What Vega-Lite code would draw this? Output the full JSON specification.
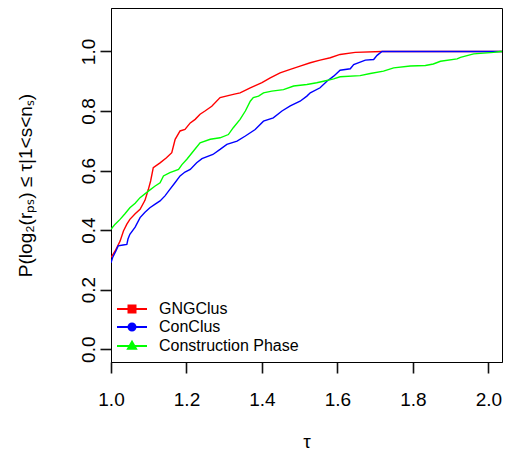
{
  "$schema": "https://vega.github.io/schema/vega-lite/v6.json",
  "width": 391,
  "height": 354,
  "autosize": {"type": "none"},
  "padding": {"left": 111, "top": 8, "right": 9, "bottom": 95},
  "config": {
    "view": {"stroke": "black", "strokeWidth": 1},
    "font": "Liberation Sans",
    "axis": {"grid": false, "domain": true, "domainColor": "black", "domainWidth": 1, "ticks": true, "tickColor": "#111111", "tickWidth": 1.6, "tickSize": 11, "labelFlush": false, "labelColor": "black", "labelFontSize": 19, "labelFont": "Liberation Sans", "titleFont": "Liberation Sans", "titleFontSize": 19, "titleFontWeight": "normal", "titleColor": "black"}
  },
  "data": {"values": [
    {"s":"GNGClus","t":1.000,"p":0.308},{"s":"GNGClus","t":1.011,"p":0.33},{"s":"GNGClus","t":1.024,"p":0.363},{"s":"GNGClus","t":1.033,"p":0.397},{"s":"GNGClus","t":1.042,"p":0.42},{"s":"GNGClus","t":1.050,"p":0.436},{"s":"GNGClus","t":1.064,"p":0.455},{"s":"GNGClus","t":1.077,"p":0.47},{"s":"GNGClus","t":1.090,"p":0.50},{"s":"GNGClus","t":1.099,"p":0.537},{"s":"GNGClus","t":1.105,"p":0.565},{"s":"GNGClus","t":1.112,"p":0.61},{"s":"GNGClus","t":1.130,"p":0.626},{"s":"GNGClus","t":1.147,"p":0.643},{"s":"GNGClus","t":1.161,"p":0.66},{"s":"GNGClus","t":1.167,"p":0.69},{"s":"GNGClus","t":1.170,"p":0.705},{"s":"GNGClus","t":1.183,"p":0.733},{"s":"GNGClus","t":1.196,"p":0.738},{"s":"GNGClus","t":1.210,"p":0.76},{"s":"GNGClus","t":1.223,"p":0.772},{"s":"GNGClus","t":1.236,"p":0.789},{"s":"GNGClus","t":1.249,"p":0.80},{"s":"GNGClus","t":1.267,"p":0.816},{"s":"GNGClus","t":1.289,"p":0.845},{"s":"GNGClus","t":1.324,"p":0.856},{"s":"GNGClus","t":1.342,"p":0.861},{"s":"GNGClus","t":1.369,"p":0.878},{"s":"GNGClus","t":1.400,"p":0.895},{"s":"GNGClus","t":1.422,"p":0.911},{"s":"GNGClus","t":1.448,"p":0.928},{"s":"GNGClus","t":1.475,"p":0.94},{"s":"GNGClus","t":1.501,"p":0.951},{"s":"GNGClus","t":1.528,"p":0.962},{"s":"GNGClus","t":1.554,"p":0.971},{"s":"GNGClus","t":1.581,"p":0.979},{"s":"GNGClus","t":1.607,"p":0.99},{"s":"GNGClus","t":1.647,"p":0.997},{"s":"GNGClus","t":1.718,"p":1.0},{"s":"GNGClus","t":2.036,"p":1.0},
    {"s":"ConClus","t":1.000,"p":0.29},{"s":"ConClus","t":1.005,"p":0.31},{"s":"ConClus","t":1.013,"p":0.33},{"s":"ConClus","t":1.019,"p":0.347},{"s":"ConClus","t":1.032,"p":0.35},{"s":"ConClus","t":1.042,"p":0.352},{"s":"ConClus","t":1.045,"p":0.37},{"s":"ConClus","t":1.050,"p":0.386},{"s":"ConClus","t":1.064,"p":0.41},{"s":"ConClus","t":1.077,"p":0.442},{"s":"ConClus","t":1.090,"p":0.46},{"s":"ConClus","t":1.103,"p":0.475},{"s":"ConClus","t":1.117,"p":0.487},{"s":"ConClus","t":1.130,"p":0.498},{"s":"ConClus","t":1.143,"p":0.515},{"s":"ConClus","t":1.156,"p":0.537},{"s":"ConClus","t":1.170,"p":0.56},{"s":"ConClus","t":1.183,"p":0.582},{"s":"ConClus","t":1.196,"p":0.595},{"s":"ConClus","t":1.210,"p":0.604},{"s":"ConClus","t":1.227,"p":0.626},{"s":"ConClus","t":1.241,"p":0.64},{"s":"ConClus","t":1.270,"p":0.654},{"s":"ConClus","t":1.289,"p":0.671},{"s":"ConClus","t":1.307,"p":0.688},{"s":"ConClus","t":1.334,"p":0.699},{"s":"ConClus","t":1.356,"p":0.716},{"s":"ConClus","t":1.382,"p":0.738},{"s":"ConClus","t":1.404,"p":0.766},{"s":"ConClus","t":1.430,"p":0.777},{"s":"ConClus","t":1.453,"p":0.80},{"s":"ConClus","t":1.475,"p":0.817},{"s":"ConClus","t":1.501,"p":0.833},{"s":"ConClus","t":1.519,"p":0.85},{"s":"ConClus","t":1.528,"p":0.861},{"s":"ConClus","t":1.554,"p":0.878},{"s":"ConClus","t":1.572,"p":0.90},{"s":"ConClus","t":1.590,"p":0.917},{"s":"ConClus","t":1.607,"p":0.937},{"s":"ConClus","t":1.634,"p":0.942},{"s":"ConClus","t":1.643,"p":0.956},{"s":"ConClus","t":1.674,"p":0.971},{"s":"ConClus","t":1.696,"p":0.973},{"s":"ConClus","t":1.705,"p":0.987},{"s":"ConClus","t":1.718,"p":1.0},{"s":"ConClus","t":2.036,"p":1.0},
    {"s":"Construction Phase","t":1.000,"p":0.403},{"s":"Construction Phase","t":1.011,"p":0.42},{"s":"Construction Phase","t":1.024,"p":0.436},{"s":"Construction Phase","t":1.037,"p":0.455},{"s":"Construction Phase","t":1.050,"p":0.475},{"s":"Construction Phase","t":1.064,"p":0.49},{"s":"Construction Phase","t":1.077,"p":0.509},{"s":"Construction Phase","t":1.099,"p":0.531},{"s":"Construction Phase","t":1.117,"p":0.548},{"s":"Construction Phase","t":1.130,"p":0.559},{"s":"Construction Phase","t":1.139,"p":0.582},{"s":"Construction Phase","t":1.156,"p":0.593},{"s":"Construction Phase","t":1.179,"p":0.604},{"s":"Construction Phase","t":1.188,"p":0.62},{"s":"Construction Phase","t":1.201,"p":0.638},{"s":"Construction Phase","t":1.218,"p":0.665},{"s":"Construction Phase","t":1.236,"p":0.693},{"s":"Construction Phase","t":1.263,"p":0.705},{"s":"Construction Phase","t":1.289,"p":0.71},{"s":"Construction Phase","t":1.311,"p":0.721},{"s":"Construction Phase","t":1.324,"p":0.744},{"s":"Construction Phase","t":1.342,"p":0.772},{"s":"Construction Phase","t":1.356,"p":0.80},{"s":"Construction Phase","t":1.369,"p":0.833},{"s":"Construction Phase","t":1.377,"p":0.845},{"s":"Construction Phase","t":1.391,"p":0.85},{"s":"Construction Phase","t":1.404,"p":0.861},{"s":"Construction Phase","t":1.426,"p":0.867},{"s":"Construction Phase","t":1.457,"p":0.872},{"s":"Construction Phase","t":1.484,"p":0.884},{"s":"Construction Phase","t":1.519,"p":0.889},{"s":"Construction Phase","t":1.545,"p":0.895},{"s":"Construction Phase","t":1.563,"p":0.90},{"s":"Construction Phase","t":1.590,"p":0.908},{"s":"Construction Phase","t":1.607,"p":0.915},{"s":"Construction Phase","t":1.660,"p":0.919},{"s":"Construction Phase","t":1.687,"p":0.926},{"s":"Construction Phase","t":1.722,"p":0.934},{"s":"Construction Phase","t":1.749,"p":0.945},{"s":"Construction Phase","t":1.793,"p":0.951},{"s":"Construction Phase","t":1.833,"p":0.953},{"s":"Construction Phase","t":1.854,"p":0.958},{"s":"Construction Phase","t":1.873,"p":0.967},{"s":"Construction Phase","t":1.917,"p":0.975},{"s":"Construction Phase","t":1.926,"p":0.98},{"s":"Construction Phase","t":1.961,"p":0.992},{"s":"Construction Phase","t":2.014,"p":0.997},{"s":"Construction Phase","t":2.032,"p":1.0},{"s":"Construction Phase","t":2.036,"p":1.0}
  ]},
  "mark": {"type": "line", "interpolate": "linear", "strokeWidth": 1.4, "clip": true},
  "encoding": {
    "x": {"field": "t", "type": "quantitative",
      "scale": {"domain": [1, 2.036], "nice": false, "zero": false},
      "axis": {"values": [1, 1.2, 1.4, 1.6, 1.8, 2.0], "format": ".1f", "labelPadding": 17, "title": "τ", "titleY": 79, "titleBaseline": "middle"}},
    "y": {"field": "p", "type": "quantitative",
      "scale": {"domain": [-0.043, 1.146], "nice": false, "zero": false},
      "axis": {"values": [0, 0.2, 0.4, 0.6, 0.8, 1.0], "format": ".1f", "labelAngle": -90, "labelAlign": "center", "labelBaseline": "bottom", "labelPadding": 2,
        "title": "P(log₂(rₚₛ) ≤ τ|1<s<nₛ)", "titleX": -86, "titleY": 177, "titleAngle": -90, "titleAlign": "center", "titleBaseline": "middle"}},
    "color": {"field": "s", "type": "nominal",
      "scale": {"domain": ["GNGClus", "ConClus", "Construction Phase"], "range": ["#ff0000", "#0000ff", "#00ff00"]},
      "legend": {"title": null, "orient": "none", "legendX": 13, "legendY": 293, "padding": 0,
        "symbolSize": 100, "symbolStrokeWidth": 2, "labelFontSize": 16, "labelFont": "Liberation Sans", "labelColor": "black", "labelOffset": 19, "rowPadding": 2,
        "encode": {"symbols": {"update": {
          "shape": {"signal": "datum.value === 'GNGClus' ? 'M-3,0H3M-0.7,-0.7H0.7V0.7H-0.7Z' : datum.value === 'ConClus' ? 'M-3,0H3M0.7,0A0.7,0.7,0,1,1,-0.7,0A0.7,0.7,0,1,1,0.7,0Z' : 'M-3,0H3M0,-0.85L0.8,0.55H-0.8Z'"},
          "fill": {"signal": "scale('color', datum.value)"},
          "stroke": {"signal": "scale('color', datum.value)"},
          "fillOpacity": {"value": 1},
          "strokeWidth": {"value": 2}}}}}}
  }
}
